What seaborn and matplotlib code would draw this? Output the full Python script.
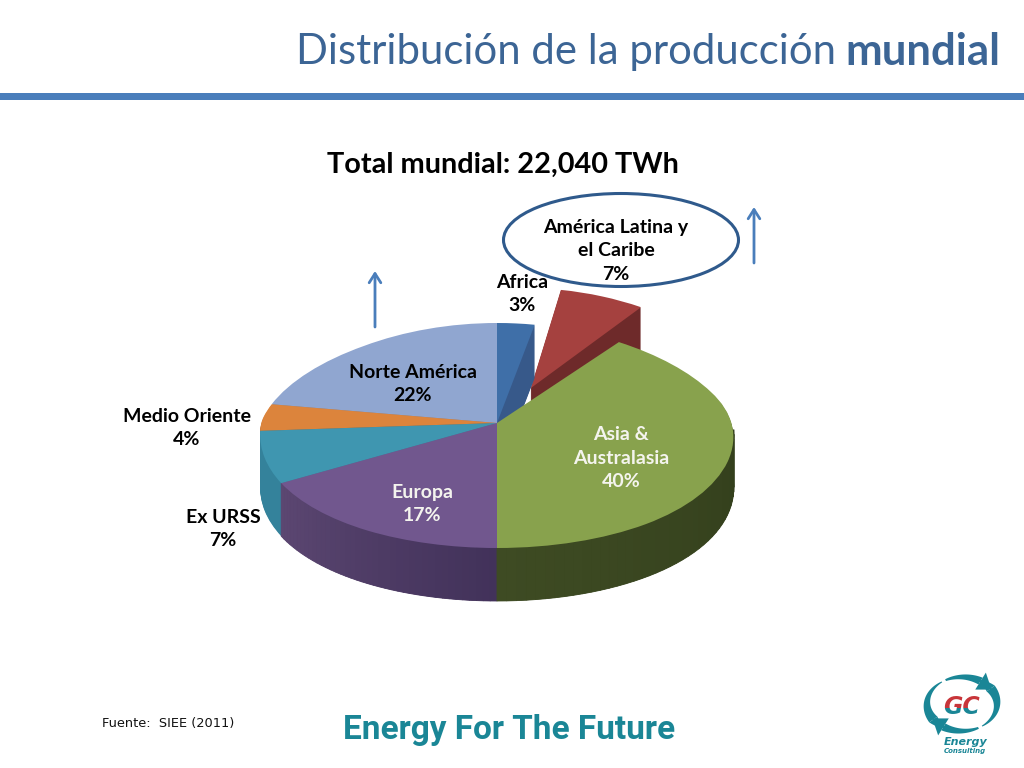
import numpy as np
import matplotlib
matplotlib.use("Agg")
import matplotlib.pyplot as plt
import seaborn as sns
from matplotlib.patches import Ellipse, Polygon, Rectangle
from matplotlib.transforms import Affine2D, Bbox, Transform

# -- Data ---------------------------------------------------------------------
regions = ["Africa", "América Latina y\nel Caribe", "Asia &\nAustralasia", "Europa",
           "Ex URSS", "Medio Oriente", "Norte América"]
shares = [3, 7, 40, 17, 7, 4, 22]
explode = [0, 0.38, 0, 0, 0, 0, 0]

face_colors = ["#3f6fa8", "#a5413f", "#88a24d", "#71578e", "#3f96b0", "#dc843c", "#90a6d0"]
side_colors = ["#37598a", "#6e2a2a", "#3a4620", "#50406a", "#34829b", "#a8622a", "#7487a8"]
draw_rank = [2, 1, 7, 6, 5, 4, 3]   # back slices first

label_xy = [(522, 294), (616, 251), (621, 458), (422, 504), (223, 529), (187, 428), (413, 384)]
label_colors = ["black", "black", "#f4f4ee", "#f4f4ee", "black", "black", "black"]

TITLE_BLUE = "#3c6595"
RULE_BLUE = "#4a7ebb"
TEAL = "#1a8696"
LOGO_RED = "#c8353a"

# pixel geometry of the squashed pie
CX, CY = 497, 423
RX, RY_TOP, RY_BOTTOM = 236, 100, 125
DEPTH = 53
TAPER_BACK, TAPER_FRONT = 0.15, 0.09   # back of the pie narrower than the front

sns.set_theme(style="white")
plt.rcParams["font.family"] = ["Lato", "DejaVu Sans"]

fig = plt.figure(figsize=(10.24, 7.68), dpi=100, facecolor="white")
ax = fig.add_axes([0, 0, 1, 1])
ax.set_zorder(1)


def taper(y):
    return 1 - np.where(y > 0, TAPER_BACK, TAPER_FRONT) * y


class Perspective(Transform):
    input_dims = output_dims = 2

    def transform_non_affine(self, values):
        values = np.asarray(values, dtype=float)
        return np.c_[values[:, 0] * taper(values[:, 1]), values[:, 1]]


# -- Pie, stacked one pixel at a time for the thickness ------------------------
def stack_pie(colors, shift, level):
    wedges, _ = ax.pie(shares, explode=explode, colors=colors, startangle=90,
                       counterclock=False, wedgeprops={"linewidth": 0})
    for wedge, rank in zip(wedges, draw_rank):
        wedge.set_transform(Perspective() + ax.transData + Affine2D().translate(0, -shift))
        wedge.set_zorder(rank * 100 + level)


for k in range(DEPTH, 0, -1):
    stack_pie(side_colors, k, DEPTH - k)
stack_pie(face_colors, 0, 90)


# outer wall shading for the two big front slices
def shade_wall(idx, start_col, end_col, steps=40):
    stop = 90 - sum(shares[:idx + 1]) * 3.6
    start = min(90 - sum(shares[:idx]) * 3.6, -3)
    thetas = np.radians(np.linspace(stop, start, steps + 1))
    cols = sns.blend_palette([start_col, end_col], steps)
    drop = DEPTH / RY_BOTTOM
    for i in range(steps):
        pair = thetas[[i, i + 1, i + 1, i]]
        xs = np.cos(pair) * taper(np.sin(pair))
        ys = np.sin(pair) - np.array([0, 0, drop, drop])
        ax.fill(xs, ys, color=cols[i], lw=0.6, zorder=draw_rank[idx] * 100 + 70)


shade_wall(3, "#5c4772", "#42325a")
shade_wall(2, "#3e4b23", "#333f1c")


def y_forward(y):
    y = np.asarray(y, dtype=float)
    return np.where(y > 0, y * RY_TOP, y * RY_BOTTOM)


def y_inverse(y):
    y = np.asarray(y, dtype=float)
    return np.where(y > 0, y / RY_TOP, y / RY_BOTTOM)


ax.set_aspect("auto")
ax.set_yscale("function", functions=(y_forward, y_inverse))
ax.set_xlim(-CX / RX, (1024 - CX) / RX)
ax.set_ylim(-(768 - CY) / RY_BOTTOM, CY / RY_TOP)
ax.axis("off")

# -- Everything else in slide pixels -------------------------------------------
top = fig.add_axes([0, 0, 1, 1])
top.set_zorder(2)
top.set_xlim(0, 1024)
top.set_ylim(768, 0)
top.axis("off")

top.text(296, 52, "Distribución de la producción", ha="left", va="center",
         fontsize=30.2, color=TITLE_BLUE)
top.text(1000, 52, "mundial", ha="right", va="center", fontsize=31.5,
         fontweight="bold", color=TITLE_BLUE)
top.add_patch(Rectangle((0, 93), 1024, 7, color=RULE_BLUE, lw=0))

top.text(503, 165, "Total mundial: 22,040 TWh", ha="center", va="center",
         fontsize=20.8, fontweight="bold", color="black")

for name, share, (lx, ly), col in zip(regions, shares, label_xy, label_colors):
    top.text(lx, ly, f"{name}\n{share}%", ha="center", va="center", fontsize=14,
             fontweight="bold", color=col, linespacing=1.44)

top.add_patch(Ellipse((621, 240), 235, 93, fill=False, ec="#2f5a8c", lw=2.2))
for arrow_x, y0, y1 in [(375, 327, 271), (754, 263, 207)]:
    top.annotate("", xy=(arrow_x, y1), xytext=(arrow_x, y0),
                 arrowprops=dict(arrowstyle="->,head_length=0.55,head_width=0.35",
                                 color=RULE_BLUE, lw=2, shrinkA=0, shrinkB=0))

top.text(102, 723, "Fuente:  SIEE (2011)", ha="left", va="center", fontsize=9.3,
         family="DejaVu Sans", color="#111111")
top.text(509, 730, "Energy For The Future", ha="center", va="center", fontsize=24,
         fontweight="bold", family="Roboto", color=TEAL)

# -- Logo ----------------------------------------------------------------------
LX, LY, LRX, LRY = 962, 704, 35, 27


def swoosh(a0, a1, w0, w1, head=False):
    th = np.radians(np.linspace(a0, a1, 30))
    w = np.linspace(w0, w1, 30)
    outer = np.c_[LX + (LRX + w / 2) * np.cos(th), LY - (LRY + w / 2) * np.sin(th)]
    inner = np.c_[LX + (LRX - w / 2) * np.cos(th), LY - (LRY - w / 2) * np.sin(th)]
    top.add_patch(Polygon(np.r_[outer, inner[::-1]], color=TEAL, lw=0))
    if head:
        end = th[-1]
        d = np.sign(a1 - a0)
        tip = (LX + LRX * np.cos(end + d * 0.45), LY - LRY * np.sin(end + d * 0.45))
        p1 = (LX + (LRX + 10) * np.cos(end), LY - (LRY + 10) * np.sin(end))
        p2 = (LX + (LRX - 10) * np.cos(end), LY - (LRY - 10) * np.sin(end))
        top.add_patch(Polygon([p1, tip, p2], color=TEAL, lw=0))


for turn in (0, 180):
    swoosh(118 + turn, 58 + turn, 2, 8, head=True)
    swoosh(125 + turn, 215 + turn, 1, 10)
    swoosh(215 + turn, 240 + turn, 10, 2)

split = 768 - 708
for col, clip in [(LOGO_RED, [[0, split], [1024, 768]]), (TEAL, [[0, 0], [1024, split]])]:
    gc = top.text(962, 707, "GC", ha="center", va="center", fontsize=17, style="italic",
                  fontweight="bold", family="DejaVu Sans", color=col, clip_on=True)
    gc.set_clip_box(Bbox(clip))
top.text(966, 742, "Energy", ha="center", va="center", fontsize=8, style="italic",
         fontweight="bold", family="DejaVu Sans", color=TEAL)
top.text(965, 751, "Consulting", ha="center", va="center", fontsize=5, style="italic",
         fontweight="bold", family="DejaVu Sans", color=TEAL)

fig.savefig("out.png", dpi=100)
